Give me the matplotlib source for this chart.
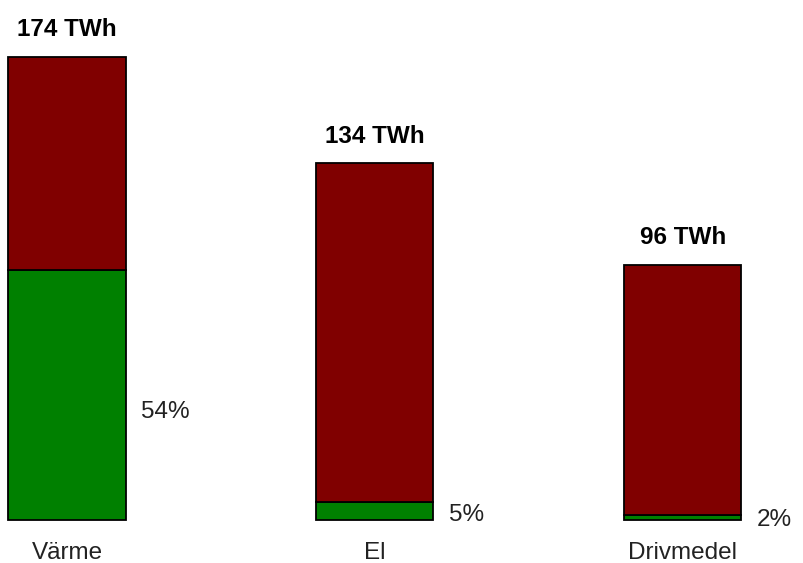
import matplotlib
matplotlib.use("Agg")
import matplotlib.pyplot as plt
import numpy as np

plt.rcParams['font.family'] = ['Liberation Sans', 'DejaVu Sans']

categories = ["Värme", "El", "Drivmedel"]
totals_twh = [174, 134, 96]
renewable_pct = [54, 5, 2]

totals = np.array(totals_twh, dtype=float)
green = totals * np.array(renewable_pct) / 100.0
red = totals - green

# vertical nudge of each percentage label, in points
pct_dy = [-12, -3, -1.5]

fig = plt.figure(figsize=(8.04, 5.63), dpi=100)
ax = fig.add_axes([0, 0, 1, 1])
x = np.arange(len(categories))
w = 0.38

ax.bar(x, green, width=w, color="#008000", edgecolor="black", linewidth=1.3)
ax.bar(x, red, width=w, bottom=green, color="#800000", edgecolor="black", linewidth=1.3)

for xi, tot, g, pct, name, dy in zip(x, totals, green, renewable_pct, categories, pct_dy):
    ax.annotate(f"{tot:.0f} TWh", (xi, tot), xytext=(0, 19.5), textcoords="offset points",
                ha="center", va="center", fontsize=17.5, fontweight="bold", color="black")
    ax.annotate(f"{pct}%", (xi + w / 2, g / 2), xytext=(11, dy), textcoords="offset points",
                ha="left", va="center", fontsize=17.5, color="#222222")
    ax.annotate(name, (xi, 0), xytext=(0, -23.5), textcoords="offset points",
                ha="center", va="center", fontsize=17.5, color="#222222")

ax.set_xlim(-0.2175, 2.393)
ax.set_ylim(-16.16, 195.4)
ax.axis("off")

fig.savefig("out.png", dpi=100, facecolor="white")
